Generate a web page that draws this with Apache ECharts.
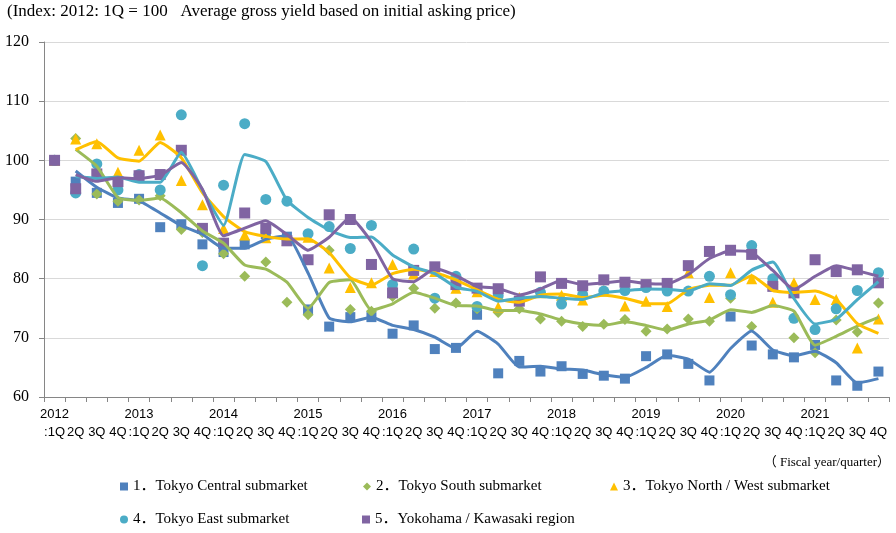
<!DOCTYPE html>
<html><head><meta charset="utf-8">
<script src="https://cdn.jsdelivr.net/npm/echarts@6/dist/echarts.min.js"></script>
<style>html,body{margin:0;padding:0;background:#fff}#c{width:896px;height:533px}</style>
</head><body><div id="c"></div>
<script>
// ---- data ----
const years = ['2012','2013','2014','2015','2016','2017','2018','2019','2020','2021'];
const quarters = [':1Q','2Q','3Q','4Q'];
const seriesNames = [
  '1．Tokyo Central submarket',
  '2．Tokyo South submarket',
  '3．Tokyo North / West submarket',
  '4．Tokyo East submarket',
  '5．Yokohama / Kawasaki region'
];
const tokyoCentral = [100,96.4,94.5,92.8,93.5,88.7,89.2,85.8,84.5,85.8,87.5,87.1,
  74.8,71.9,73.5,73.5,70.7,72.1,68.1,68.3,73.9,64.0,66.1,64.3,65.2,63.9,63.6,63.1,
  66.9,67.2,65.6,62.8,73.6,68.7,67.2,66.7,68.8,62.8,61.9,64.3];
const tokyoSouth = [100,103.7,94.3,93.1,93.3,94.0,88.3,87.8,84.2,80.4,82.8,76.0,
  73.9,84.8,74.8,74.5,77.0,78.4,75.0,75.9,74.9,74.3,74.9,73.2,72.8,71.9,72.3,73.1,
  71.1,71.5,73.2,72.8,76.7,71.9,79.0,70.0,67.5,73.0,71.0,75.9];
const tokyoNorthWest = [100,103.6,102.8,98.0,101.7,104.3,96.6,92.5,88.5,87.4,86.9,86.5,
  87.0,81.8,78.5,79.3,82.4,80.8,81.2,78.4,77.8,75.2,76.8,77.6,77.2,76.4,78.0,75.4,
  76.2,75.3,81.0,76.8,81.0,80.0,76.0,79.3,76.5,76.5,68.3,73.2];
const tokyoEast = [100,94.5,99.4,95.0,97.6,95.0,107.7,82.2,95.8,106.2,93.4,93.1,
  87.6,88.8,85.1,89.0,79.0,85.0,76.7,80.4,75.3,77.1,76.3,77.7,75.7,77.3,77.9,78.0,
  78.5,77.9,77.9,80.4,77.3,85.6,80.0,73.3,71.4,74.9,78.0,81.0];
const yokohamaKawasaki = [100,95.2,97.7,96.4,97.4,97.6,101.7,88.5,86.0,91.1,88.5,86.4,
  83.2,90.8,90.0,82.4,77.6,81.4,82.0,79.0,78.4,78.3,76.2,80.3,79.2,78.8,79.8,79.4,
  79.0,79.2,82.2,84.6,84.8,84.1,78.7,77.6,83.2,81.2,81.5,79.3];
const yTicks = [60,70,80,90,100,110,120];

// ---- build ----
const categories = [];
years.forEach(y => quarters.forEach((q, i) => categories.push(i === 0 ? y + '\n' + q : '\n' + q)));

// 2-period moving average trendline (as in the original chart)
function movingAverage2(arr) {
  return arr.map((v, i) => i === 0 ? null : +((arr[i - 1] + v) / 2).toFixed(2));
}

const allData = [tokyoCentral, tokyoSouth, tokyoNorthWest, tokyoEast, yokohamaKawasaki];
const colors = ['#4F81BD', '#9BBB59', '#FFC000', '#4BACC6', '#8064A2'];
const symbols = ['rect', 'diamond', 'triangle', 'circle', 'rect'];
const sizes = [10, 11, 11, 11, 11];

const series = [];
allData.forEach((d, k) => {
  series.push({
    name: seriesNames[k], type: 'scatter', data: d, symbol: symbols[k],
    symbolSize: sizes[k], itemStyle: { color: colors[k], opacity: 1 }, z: 2
  });
});
allData.forEach((d, k) => {
  series.push({
    name: 'trend' + k, type: 'line', data: movingAverage2(d), showSymbol: false,
    smooth: 0.15, lineStyle: { color: colors[k], width: 3 }, itemStyle: { color: colors[k] },
    z: 3, connectNulls: false
  });
});

const legendFont = { fontFamily: "'Liberation Serif','Noto Sans CJK JP',serif", fontSize: 15, color: '#000' };
const legendPos = [[120, 479], [363, 479], [610, 479], [120, 512], [362, 512]];
const legends = seriesNames.map((n, k) => ({
  data: [n], left: legendPos[k][0], top: legendPos[k][1], itemWidth: 8, itemHeight: 8,
  itemGap: 0, padding: 0, textStyle: legendFont, selectedMode: false
}));

const chart = echarts.init(document.getElementById('c'), null, { renderer: 'canvas' });
chart.setOption({
  animation: false,
  backgroundColor: '#fff',
  title: {
    text: '(Index: 2012: 1Q = 100   Average gross yield based on initial asking price)',
    left: 7, top: 3, padding: 0,
    textStyle: { fontFamily: "'Liberation Serif',serif", fontSize: 17, fontWeight: 'normal', color: '#000' }
  },
  legend: legends,
  grid: { left: 44, right: 7, top: 42, bottom: 136, containLabel: false },
  xAxis: {
    type: 'category', data: categories, boundaryGap: true,
    axisLine: { lineStyle: { color: '#868686' } },
    axisTick: { show: true, length: 5, lineStyle: { color: '#868686' } },
    axisLabel: { interval: 0, color: '#000', fontFamily: "'Liberation Sans',Arial,sans-serif", fontSize: 13, lineHeight: 18, margin: 8 }
  },
  yAxis: {
    type: 'value', min: yTicks[0], max: yTicks[yTicks.length - 1], interval: 10,
    axisLine: { show: true, lineStyle: { color: '#868686' } },
    axisTick: { show: true, length: 5, lineStyle: { color: '#868686' } },
    splitLine: { lineStyle: { color: '#d9d9d9' } },
    axisLabel: { color: '#000', fontFamily: "'Liberation Serif',serif", fontSize: 16, margin: 15 }
  },
  graphic: [{
    type: 'text', right: 6, top: 456,
    style: { text: '（ Fiscal year/quarter）', fill: '#000', font: "13px 'Liberation Serif','Noto Sans CJK JP',serif" }
  }],
  series: series
});
</script>
</body></html>
